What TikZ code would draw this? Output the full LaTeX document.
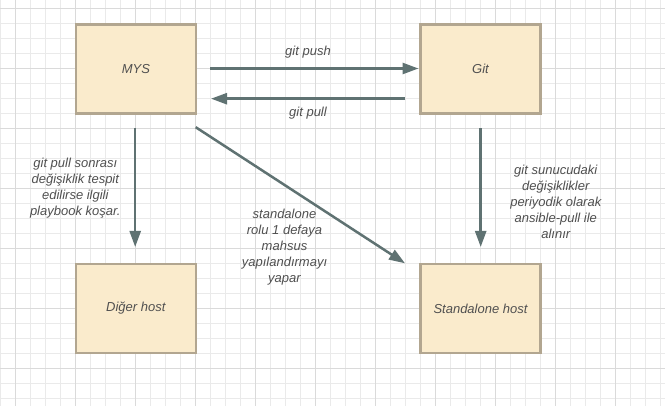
\documentclass[tikz,border=0pt]{standalone}
\usepackage{fontspec}
\setmainfont{Liberation Sans}
\usetikzlibrary{arrows.meta}
\definecolor{boxfill}{RGB}{250,235,204}
\definecolor{boxline}{RGB}{178,166,144}
\definecolor{arrcol}{RGB}{95,114,114}
\definecolor{txtcol}{RGB}{80,80,80}
\definecolor{gridminor}{RGB}{234,234,234}
\definecolor{gridmajor}{RGB}{218,218,218}
\tikzset{
  box/.style={rectangle, draw=boxline, fill=boxfill, line width=2.3pt, minimum width=120pt, minimum height=89pt, outer sep=0pt, inner sep=0pt, text=txtcol, font=\fontsize{13}{16}\selectfont\itshape},
  lbl/.style={inner sep=0pt, align=center, text=txtcol, font=\fontsize{13}{16}\selectfont\itshape},
  arr/.style={draw=arrcol, line width=2.5pt, -{Triangle[length=16pt,width=11pt]}},
  gminor/.style={draw=gridminor, line width=1pt},
  gmajor/.style={draw=gridmajor, line width=1pt}
}
\begin{document}
\begin{tikzpicture}[x=1pt,y=-1pt]
\useasboundingbox (0,0) rectangle (665,406);
\fill[white] (0,0) rectangle (665,406);
\foreach \i in {0,...,44} {\draw[gminor] ({0.7+15*\i},0) -- ({0.7+15*\i},406);}
\foreach \j in {0,...,26} {\draw[gminor] (0,{8.3+15*\j}) -- (665,{8.3+15*\j});}
\foreach \i in {0,...,10} {\draw[gmajor] ({15.7+60*\i},0) -- ({15.7+60*\i},406);}
\foreach \j in {0,...,6} {\draw[gmajor] (0,{8.3+60*\j}) -- (665,{8.3+60*\j});}

\node[box] (mys) at (136,69) {MYS};
\node[box] (git) at (480.5,69) {Git};
\node[box] (diger) at (135.8,308.5) {Diğer host};
\node[box] (stand) at (480.5,308.5) {Standalone host};

\draw[arr, shorten <=14pt, shorten >=2pt] ([shift={(0,-0.5)}]mys.east) -- ([shift={(0,-0.5)}]git.west);
\draw[arr, shorten <=15.2pt, shorten >=15pt] ([shift={(0,29.7)}]git.west) -- ([shift={(0,29.7)}]mys.east);
\draw[arr, shorten <=15pt, shorten >=17pt] ([shift={(-0.8,0)}]mys.south) -- ([shift={(-0.6,0)}]diger.north);
\draw[arr, shorten <=15pt, shorten >=17pt] ([shift={(0.2,0)}]git.south) -- ([shift={(0.2,0)}]stand.north);
\draw[arr] ([shift={(-0.3,13.7)}]mys.south east) -- ([shift={(-15.5,-0.7)}]stand.north west);

\node[lbl] (lpush) at (308,51.7) {git push};
\node[lbl] (lpull) at (308,113.3) {git pull};
\node[lbl] (lleft) at (75.3,187.7) {git pull sonrası\\değişiklik tespit\\edilirse ilgili\\playbook koşar.};
\node[lbl] (lmid) at (284.5,247) {standalone\\rolu 1 defaya\\mahsus\\yapılandırmayı\\yapar};
\node[lbl] (lright) at (555.8,202) {git sunucudaki\\değişiklikler\\periyodik olarak\\ansible-pull ile\\alınır};
\end{tikzpicture}
\end{document}
